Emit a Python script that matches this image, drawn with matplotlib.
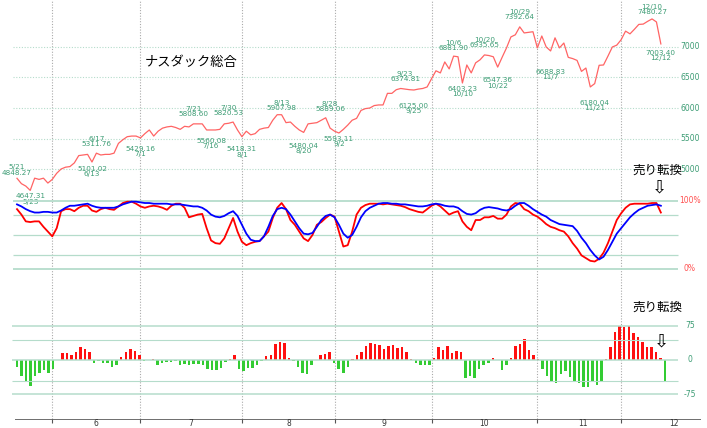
import numpy as np
import matplotlib
matplotlib.use("Agg")
import matplotlib.pyplot as plt

price = [4848,4760,4720,4650,4850,4830,4850,4770,4830,4930,5000,5030,5040,5100,5220,5230,5240,5115,5260,5230,
         5240,5240,5260,5420,5480,5530,5540,5540,5510,5580,5640,5540,5620,5670,5690,5700,5680,5650,5700,5690,
         5740,5740,5740,5640,5640,5640,5650,5740,5750,5770,5640,5530,5620,5560,5580,5650,5670,5680,5800,5890,
         5890,5760,5770,5700,5640,5600,5740,5750,5760,5800,5840,5670,5620,5590,5650,5720,5800,5830,5960,5990,
         6000,6040,6050,6050,6240,6240,6300,6320,6310,6300,6295,6310,6320,6345,6480,6610,6575,6755,6640,6850,
         6840,6410,6705,6575,6740,6790,6870,6860,6840,6670,6830,6985,7165,7200,7330,7230,7240,7250,6985,7180,
         7000,6935,7150,6985,7065,6830,6810,6780,6600,6655,6345,6400,6700,6705,6850,7000,7030,7120,7260,7215,
         7290,7370,7375,7420,7460,7410,7050]

stoch_k = [88,80,70,69,70,70,62,55,48,60,85,88,88,85,90,93,93,86,84,88,90,88,87,92,97,99,99,96,92,90,
           92,93,92,90,87,93,96,96,90,76,78,80,81,60,42,38,37,45,60,75,55,40,35,38,40,41,48,55,75,90,
           97,88,72,65,55,45,41,50,65,69,75,80,77,55,33,35,55,80,90,94,96,96,96,95,96,95,94,93,91,88,
           86,84,83,88,93,96,92,86,80,83,85,70,62,57,72,72,76,76,78,74,74,80,92,97,96,88,85,80,77,72,
           66,62,60,57,55,48,38,30,20,16,12,11,15,24,38,55,72,82,90,95,96,96,96,96,97,97,83]

stoch_d = [95,92,88,85,83,83,84,84,83,83,86,90,93,93,94,95,96,93,91,90,90,90,90,92,95,97,99,99,98,97,
           97,96,96,96,96,95,95,95,94,93,92,92,90,86,80,77,76,78,82,85,78,65,52,43,41,41,48,62,78,88,
           90,88,80,70,60,52,51,53,62,72,78,80,76,65,52,46,50,62,76,85,90,93,96,97,97,96,96,95,95,94,
           93,92,92,93,95,96,95,93,92,92,90,85,81,80,82,87,90,91,90,89,87,86,88,93,97,97,93,88,84,80,
           77,72,69,66,65,64,63,56,46,38,28,20,14,18,28,40,52,60,68,76,82,87,90,93,94,95,93]

hist = [-16,-36,-47,-56,-36,-29,-22,-28,-20,0, 15,15,12,18,28,23,17, -7,-2,-6,-7,-15,-12,
        7,18,23,20,11, -2,0,3, -10,-7,-5,-4,-2,-10,-8,-10,-8,-8,-10,-20,-22,-22,-18,-5, 3,10,
        -20,-25,-18,-18,-12,-2, 8,12,35,40,38,5, -2,-15,-28,-30,-10, 0, 12,13,18, -7,-20,-28,-15,
        3,12,18,30,38,35,33,25,30,32,26,28,18,3, -7,-10,-12,-10, 5,28,22,30,15,20,18,
        -40,-35,-40,-20,-10,-7, 5,0, -22,-12, 5,30,35,45,22,10,3,
        -20,-35,-45,-50,-30,-25,-38,-45,-50,-58,-60,-45,-55,-45,
        3,28,62,75,73,75,60,50,40,28,28,18,5, -45]

month_sep = [8, 28, 51, 72, 94, 118, 137]
month_lbl_pos = [17.9, 39.5, 61.7, 83.2, 105.9, 128.4, 149]
month_lbl = ["6", "7", "8", "9", "10", "11", "12"]

# (day index, date text, value text, above?)
notes = [(0, "5/21", "4848.27", True), (3, "5/23", "4647.31", False),
         (17, "6/13", "5101.02", False), (18, "6/17", "5311.76", True),
         (28, "7/1", "5429.16", False), (40, "7/21", "5808.60", True),
         (44, "7/16", "5560.08", False), (48, "7/30", "5820.53", True),
         (51, "8/1", "5418.31", False), (60, "8/13", "5907.98", True),
         (65, "8/20", "5480.04", False), (71, "8/28", "5889.06", True),
         (73, "9/2", "5593.11", False), (88, "9/23", "6374.81", True),
         (90, "9/25", "6125.00", False), (99, "10/6", "6881.90", True),
         (101, "10/10", "6403.23", False), (106, "10/20", "6935.65", True),
         (109, "10/22", "6547.36", False), (114, "10/29", "7392.64", True),
         (121, "11/7", "6688.83", False), (131, "11/21", "6180.04", False),
         (144, "12/10", "7480.27", True), (146, "12/12", "7003.40", False)]

price_grid = [5000, 5500, 6000, 6500, 7000]
stoch_grid = [0, 20, 50, 80, 100]
hist_grid = [-75, -46, 0, 44, 75]

W, H = 707, 428
fig = plt.figure(figsize=(W/100, H/100), dpi=100)
jp = ['Noto Sans CJK JP', 'DejaVu Sans']
GREEN = '#3c9c74'
GRID = '#b5dccb'

x0, dx = 17, 4.41
xlim = (-x0/dx, (W - x0)/dx)
xlab = (690 - x0)/dx

def add_ax(top, bot):
    ax = fig.add_axes([0, 1 - bot/H, 1, (bot - top)/H])
    ax.set_xlim(*xlim)
    ax.axis('off')
    return ax

bg = add_ax(0, 419)
bg.set_ylim(0, 1)
for m in month_sep:
    bg.axvline(m, color='#aaaaaa', lw=0.8, ls=(0, (1, 1.5)))

ax1 = add_ax(0, 193)
ax1.set_ylim(4607, 7770)
days = np.arange(len(price))
for g in price_grid:
    ax1.hlines(g, -1, 150, color=GRID, lw=0.8, ls=(0, (1, 1.5)))
    ax1.text(xlab, g, str(g), color=GREEN, fontsize=5.5, ha='center', va='center')
ax1.plot(days, price, color='#ff6464', lw=0.9)
for d, dt, val, above in notes:
    if above:
        ax1.annotate(dt + "\n" + val, (d, float(val)), xytext=(0, 2), textcoords='offset points',
                     ha='center', va='bottom', fontsize=5.2, color=GREEN, linespacing=0.85)
    else:
        ax1.annotate(val + "\n" + dt, (d, float(val)), xytext=(0, -2), textcoords='offset points',
                     ha='center', va='top', fontsize=5.2, color=GREEN, linespacing=0.85)
ax1.text((191 - x0)/dx, 6738, "ナスダック総合", family=jp, fontsize=9.5, ha='center', va='center')

ax2 = add_ax(195, 270)
ax2.set_ylim(-1.5, 108.8)
for g in stoch_grid:
    ax2.hlines(g, -1, 150, color=GRID, lw=1.3 if g in (0, 100) else 0.9)
ax2.plot(days, stoch_k, color='#ff0000', lw=1.3)
ax2.plot(days, stoch_d, color='#0000ff', lw=1.3)
ax2.text(xlab, 100, "100%", color='#ff5050', fontsize=5.5, ha='center', va='center')
ax2.text(xlab, 0, "0%", color='#ff5050', fontsize=5.5, ha='center', va='center')

ax3 = fig.add_axes([0, 1 - 419/H, 1, (419 - 270)/H])
ax3.axis('off')
hx0, hdx = 17, (665 - 17) / (len(hist) - 1)
ax3.set_xlim(-hx0/hdx, (W - hx0)/hdx)
ax3.set_ylim(-128.9, 196.6)
for g in hist_grid:
    ax3.hlines(g, -1, (678 - hx0)/hdx, color=GRID, lw=1.1 if g in (-75, 0, 75) else 0.8)
hb = np.arange(len(hist))
hv = np.array(hist)
ax3.bar(hb, hv, width=0.55, color=np.where(hv >= 0, '#ff1010', '#33cc33'))
for g, s in [(75, "75"), (0, "0"), (-75, "-75")]:
    ax3.text((690 - hx0)/hdx, g, s, color=GREEN, fontsize=5.5, ha='center', va='center')

ax4 = fig.add_axes([0, 0, 1, 9/H])
ax4.set_xlim(*xlim)
ax4.set_ylim(0, 9)
ax4.axis('off')
ax4.hlines(9, -0.5, 155, color='#555555', lw=1.2)
for m in month_sep:
    ax4.vlines(m, 5, 9, color='#555555', lw=0.8)
for p, l in zip(month_lbl_pos, month_lbl):
    ax4.text(p, 5, l, fontsize=5.5, ha='center', va='center', color='#333333')

fig.text(657/W, 1 - 170/H, "売り転換", family=jp, fontsize=9, ha='center', va='center')
fig.text(657/W, 1 - 307/H, "売り転換", family=jp, fontsize=9, ha='center', va='center')
fig.text(659/W, 1 - 188/H, "⇩", family=['DejaVu Sans'], fontsize=13, ha='center', va='center')
fig.text(661/W, 1 - 342/H, "⇩", family=['DejaVu Sans'], fontsize=13, ha='center', va='center')

fig.savefig("out.png", dpi=100, facecolor='white')
